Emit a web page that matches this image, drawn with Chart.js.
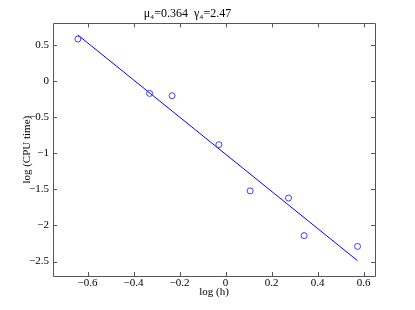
<!DOCTYPE html>
<html>
<head>
<meta charset="utf-8">
<script src="https://cdn.jsdelivr.net/npm/chart.js@4/dist/chart.umd.min.js"></script>
<style>
  html, body { margin: 0; padding: 0; background: #fff; }
  #wrap { width: 415px; height: 310px; }
</style>
</head>
<body>
<div id="wrap"><canvas id="chart1" width="415" height="310"></canvas></div>
<script>
// measured points, log(h) vs log(CPU time)
var logH   = [-0.642, -0.330, -0.232, -0.029, 0.107, 0.274, 0.342, 0.574];
var logCpu = [0.583, -0.170, -0.202, -0.880, -1.520, -1.620, -2.140, -2.290];
// fitted line end points
var fitX = [-0.642, 0.574];
var fitY = [0.640, -2.488];
var xTicks = [-0.6, -0.4, -0.2, 0, 0.2, 0.4, 0.6];
var yTicks = [-2.5, -2, -1.5, -1, -0.5, 0, 0.5];
var titleText = 'μ₄=0.364  γ₄=2.47';

var serif = "'Liberation Serif', 'DejaVu Serif', serif";
var axisColor = '#555';

function fmt(v) {
    var s = String(Math.round(v * 10) / 10);
    return s.replace('-', '\u2212');
}

// matlab style box with inward ticks on all four sides
var boxTicks = {
    id: 'boxTicks',
    afterDraw(chart) {
        var ctx = chart.ctx, a = chart.chartArea;
        var xs = chart.scales.x, ys = chart.scales.y;
        var len = 4;
        ctx.save();
        ctx.strokeStyle = axisColor;
        ctx.lineWidth = 1;
        ctx.beginPath();
        ctx.rect(Math.round(a.left) + 0.5, Math.round(a.top) + 0.5,
                 Math.round(a.right - a.left), Math.round(a.bottom - a.top));
        xTicks.forEach(function (t) {
            var px = Math.round(xs.getPixelForValue(t)) + 0.5;
            ctx.moveTo(px, a.bottom); ctx.lineTo(px, a.bottom - len);
            ctx.moveTo(px, a.top); ctx.lineTo(px, a.top + len);
        });
        yTicks.forEach(function (t) {
            var py = Math.round(ys.getPixelForValue(t)) + 0.5;
            ctx.moveTo(a.left, py); ctx.lineTo(a.left + len, py);
            ctx.moveTo(a.right, py); ctx.lineTo(a.right - len, py);
        });
        ctx.stroke();
        ctx.restore();
    }
};

let chart1 = new Chart('chart1', {
    type: 'scatter',
    data: {
        datasets: [{
            label: 'data',
            data: logH.map(function (x, i) { return {x: x, y: logCpu[i]}; }),
            showLine: false,
            pointStyle: 'circle',
            pointRadius: 3,
            pointBorderWidth: 1,
            borderColor: 'rgb(60,60,255)',
            backgroundColor: 'rgba(0,0,0,0)'
        }, {
            label: 'fit',
            data: fitX.map(function (x, i) { return {x: x, y: fitY[i]}; }),
            showLine: true,
            pointRadius: 0,
            borderWidth: 1,
            borderColor: 'rgb(0,0,255)',
            backgroundColor: 'rgb(0,0,255)'
        }]
    },
    options: {
        responsive: false,
        animation: false,
        layout: { padding: { left: 0, right: 40, top: 0, bottom: 0 } },
        plugins: {
            legend: { display: false },
            tooltip: { enabled: false },
            title: {
                display: true,
                text: titleText,
                color: '#000',
                font: { family: serif, size: 12, weight: 'normal' },
                padding: { top: 7, bottom: 2 }
            }
        },
        scales: {
            x: {
                type: 'linear',
                min: -0.75,
                max: 0.65,
                afterBuildTicks: function (s) { s.ticks = xTicks.map(function (v) { return {value: v}; }); },
                afterFit: function (s) { s.height = 34; },
                grid: { display: false, drawTicks: false },
                border: { display: false },
                ticks: {
                    color: '#000',
                    font: { family: serif, size: 11 },
                    padding: 1,
                    maxRotation: 0,
                    callback: function (v) { return fmt(v); }
                },
                title: {
                    display: true,
                    text: 'log (h)',
                    color: '#000',
                    font: { family: serif, size: 11 },
                    padding: { top: 0, bottom: 11 }
                }
            },
            y: {
                type: 'linear',
                min: -2.7,
                max: 0.8,
                afterBuildTicks: function (s) { s.ticks = yTicks.map(function (v) { return {value: v}; }); },
                afterFit: function (s) { s.width = 53; },
                grid: { display: false, drawTicks: false },
                border: { display: false },
                ticks: {
                    color: '#000',
                    font: { family: serif, size: 11 },
                    padding: 4,
                    callback: function (v) { return fmt(v); }
                },
                title: {
                    display: true,
                    text: 'log (CPU time)',
                    color: '#000',
                    font: { family: serif, size: 11 },
                    padding: { top: 21, bottom: 0 }
                }
            }
        }
    },
    plugins: [boxTicks]
});
</script>
</body>
</html>
